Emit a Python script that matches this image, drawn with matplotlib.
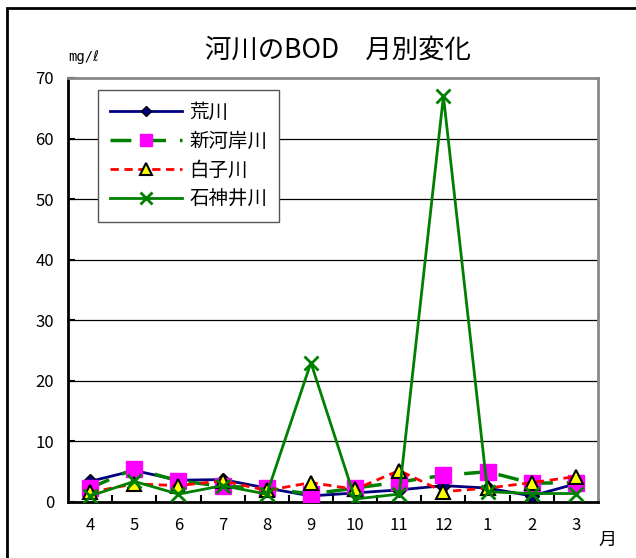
import matplotlib
matplotlib.use("Agg")
import matplotlib.pyplot as plt
from matplotlib.patches import Rectangle
from matplotlib.ticker import FixedLocator, NullFormatter

plt.rcParams['font.family'] = ['Noto Sans CJK JP', 'DejaVu Sans']

months = ["4", "5", "6", "7", "8", "9", "10", "11", "12", "1", "2", "3"]
arakawa = [3.4, 5.2, 3.6, 3.7, 2.3, 1.0, 1.5, 2.0, 2.7, 2.3, 1.0, 3.0]
shingashi = [2.3, 5.5, 3.5, 2.6, 2.3, 1.3, 2.3, 3.3, 4.4, 5.0, 3.1, 3.2]
shirako = [1.6, 3.0, 2.7, 3.5, 1.9, 3.2, 2.1, 5.2, 1.7, 2.3, 3.2, 4.2]
shakujii = [1.0, 3.4, 1.3, 2.7, 1.3, 23.0, 0.5, 1.3, 67.0, 1.7, 1.4, 1.4]
yticks = [0, 10, 20, 30, 40, 50, 60, 70]

W, H = 636, 558
fig = plt.figure(figsize=(W / 100, H / 100), dpi=100)
ax = fig.add_axes([68 / W, 1 - 502 / H, (598 - 68) / W, (502 - 78) / H])

x = list(range(len(months)))
ax.plot(x, arakawa, color='#000080', lw=2, marker='D', ms=7,
        mfc='#000080', mec='black', mew=1, label='荒川', zorder=3)
ax.plot(x, shingashi, color='#008000', lw=2.5, ls=(0, (6, 4)), marker='s', ms=11,
        mfc='#ff00ff', mec='#ff00ff', label='新河岸川', zorder=4)
ax.plot(x, shirako, color='#ff0000', lw=2, ls=(0, (3, 2)), marker='^', ms=10,
        mfc='#ffff00', mec='black', mew=1.5, label='白子川', zorder=5)
ax.plot(x, shakujii, color='#008000', lw=2, marker='x', ms=10, mew=2,
        mec='#008000', label='石神井川', zorder=6)

ax.set_xlim(-0.5, len(months) - 0.5)
ax.set_ylim(0, 70)
ax.set_yticks(yticks)
ax.set_yticklabels([str(v) for v in yticks], fontsize=12)
ax.set_xticks(x)
ax.set_xticklabels(months, fontsize=12)
ax.xaxis.set_minor_locator(FixedLocator([i + 0.5 for i in range(len(months) - 1)]))
ax.xaxis.set_minor_formatter(NullFormatter())
ax.tick_params(axis='x', which='major', length=0, pad=11)
ax.tick_params(axis='x', which='minor', direction='in', length=5, width=1.5, color='black')
ax.tick_params(axis='y', direction='in', length=5, width=1.5, pad=10)

for v in yticks[1:-1]:
    ax.axhline(v, color='black', lw=0.9, zorder=1)

ax.spines['left'].set_linewidth(2)
ax.spines['bottom'].set_linewidth(2)
ax.spines['top'].set_color('#888888')
ax.spines['right'].set_color('#888888')
ax.spines['top'].set_linewidth(2)
ax.spines['right'].set_linewidth(2)

leg = ax.legend(loc='upper left', bbox_to_anchor=((98 - 68) / 530, 1 - (90 - 78) / 424),
                fontsize=14, frameon=True, fancybox=False, handlelength=3.7, markerscale=0.8,
                borderpad=0.6, labelspacing=0.42, handletextpad=0.4, borderaxespad=0)
leg.get_frame().set_edgecolor('#555555')
leg.get_frame().set_linewidth(1)
leg.get_frame().set_alpha(1)

fig.text(338 / W, 1 - 50 / H, '河川のBOD　月別変化', fontsize=19, ha='center', va='center')
fig.text(68 / W, 1 - 57 / H, 'mg/ℓ', fontsize=10, ha='left', va='center',
         family=['DejaVu Sans Mono', 'DejaVu Sans'])
fig.text(607 / W, 1 - 540 / H, '月', fontsize=13, ha='center', va='center')

fig.patches.append(Rectangle((7 / W, -0.05), 1.1, 1 - 8 / H + 0.05, transform=fig.transFigure,
                             fill=False, edgecolor='black', lw=2))

fig.savefig('out.png', dpi=100)
